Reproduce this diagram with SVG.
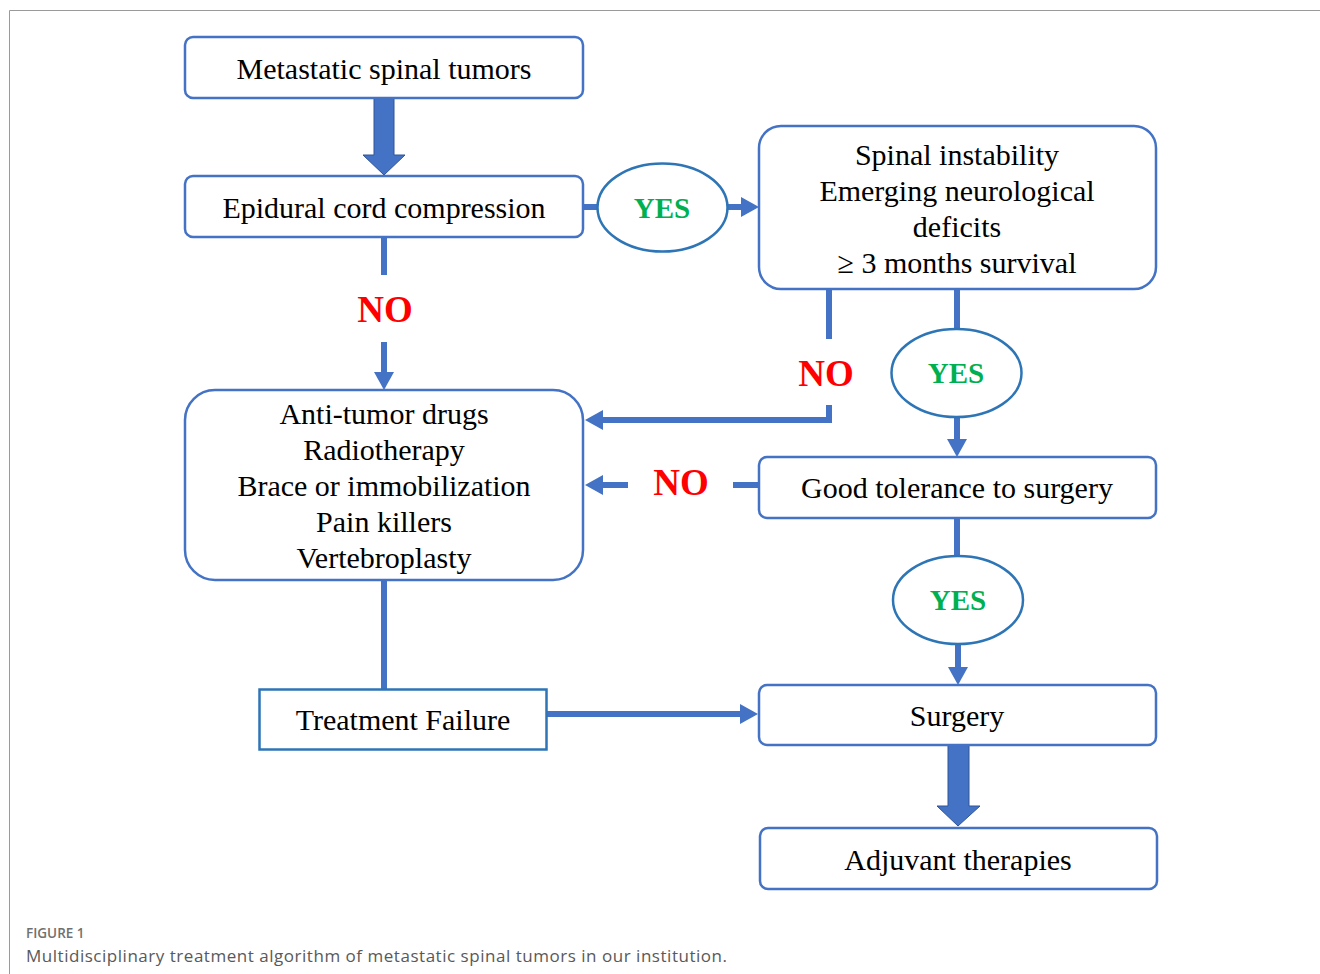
<svg xmlns="http://www.w3.org/2000/svg" width="1320" height="974" viewBox="0 0 1320 974">
<style>
.box{fill:#fff;stroke:#4472C4;stroke-width:2.5}
.ell{fill:#fff;stroke:#2E75B6;stroke-width:2.5}
.t{font-family:"Liberation Serif","Times New Roman",serif;font-size:30px;fill:#000;text-anchor:middle;dominant-baseline:central}
.yes{font-family:"Liberation Serif","Times New Roman",serif;font-size:29px;font-weight:bold;fill:#00B050;text-anchor:middle;dominant-baseline:central}
.no{font-family:"Liberation Serif","Times New Roman",serif;font-size:37px;font-weight:bold;fill:#FF0000;text-anchor:middle;dominant-baseline:central}
.ln{fill:none;stroke:#4472C4;stroke-width:6}
.big{fill:#4472C4;stroke:#2F5597;stroke-width:1}
</style>
<defs>
<marker id="ah" markerUnits="userSpaceOnUse" markerWidth="20" markerHeight="22" refX="0" refY="10" orient="auto" overflow="visible">
<path d="M0,0 L18,10 L0,20 z" fill="#4472C4"/>
</marker>
</defs>
<g id="frame">
<path d="M9.5,974 L9.5,10.5 L1320,10.5" fill="none" stroke="#9a9a9a" stroke-width="1"/>
</g>
<g id="connectors">
<polygon class="big" points="374,97 394,97 394,155 405,155 384,175 363,155 374,155"/>
<polygon class="big" points="948,745 969,745 969,806 980,806 958,826 937,806 948,806"/>
<path class="ln" d="M583,207 L598,207" stroke-width="7"/>
<path class="ln" d="M728,207 L741,207" stroke-width="7" marker-end="url(#ah)"/>
<path class="ln" d="M384,237 L384,275"/>
<path class="ln" d="M384,342 L384,372" marker-end="url(#ah)"/>
<path class="ln" d="M829,289 L829,339"/>
<path class="ln" d="M829,405 L829,420 L603,420" stroke-width="7" marker-end="url(#ah)"/>
<path class="ln" d="M957,289 L957,330" stroke-width="7"/>
<path class="ln" d="M957,417 L957,439" stroke-width="7" marker-end="url(#ah)"/>
<path class="ln" d="M759,485 L733,485" stroke-width="7"/>
<path class="ln" d="M628,485 L603,485" stroke-width="7" marker-end="url(#ah)"/>
<path class="ln" d="M957,518 L957,556" stroke-width="7"/>
<path class="ln" d="M958,644 L958,667" stroke-width="7" marker-end="url(#ah)"/>
<path class="ln" d="M384,580 L384,689"/>
<path class="ln" d="M547,714 L740,714" stroke-width="7" marker-end="url(#ah)"/>
</g>
<g id="n1"><rect class="box" x="185" y="37" width="398" height="61" rx="8"/><text class="t" x="384" y="68">Metastatic spinal tumors</text></g>
<g id="n2"><rect class="box" x="185" y="176" width="398" height="61" rx="8"/><text class="t" x="384" y="207">Epidural cord compression</text></g>
<g id="e1"><ellipse class="ell" cx="662.5" cy="207.5" rx="65" ry="44"/><text class="yes" x="662" y="208">YES</text></g>
<g id="n3"><rect class="box" x="759" y="126" width="397" height="163" rx="22"/>
<text class="t" x="957" y="154">Spinal instability</text>
<text class="t" x="957" y="190">Emerging neurological</text>
<text class="t" x="957" y="226">deficits</text>
<text class="t" x="957" y="262">≥ 3 months survival</text></g>
<g id="no1"><text class="no" x="385" y="309">NO</text></g>
<g id="no2"><text class="no" x="826" y="373">NO</text></g>
<g id="e2"><ellipse class="ell" cx="956.5" cy="373" rx="65" ry="44"/><text class="yes" x="956" y="373">YES</text></g>
<g id="n4"><rect class="box" x="185" y="390" width="398" height="190" rx="30"/>
<text class="t" x="384" y="413">Anti-tumor drugs</text>
<text class="t" x="384" y="449">Radiotherapy</text>
<text class="t" x="384" y="485">Brace or immobilization</text>
<text class="t" x="384" y="521">Pain killers</text>
<text class="t" x="384" y="557">Vertebroplasty</text></g>
<g id="no3"><text class="no" x="681" y="482">NO</text></g>
<g id="n5"><rect class="box" x="759" y="457" width="397" height="61" rx="8"/><text class="t" x="957" y="487">Good tolerance to surgery</text></g>
<g id="e3"><ellipse class="ell" cx="958" cy="600" rx="65" ry="44"/><text class="yes" x="958" y="600">YES</text></g>
<g id="n6"><rect x="259.5" y="689.5" width="287" height="60" fill="#fff" stroke="#2E75B6" stroke-width="2.5"/><text class="t" x="403" y="719">Treatment Failure</text></g>
<g id="n7"><rect class="box" x="759" y="685" width="397" height="60" rx="8"/><text class="t" x="957" y="715">Surgery</text></g>
<g id="n8"><rect class="box" x="760" y="828" width="397" height="61" rx="8"/><text class="t" x="958" y="859">Adjuvant therapies</text></g>
<g id="caption">
<text x="26" y="938" font-family="'Open Sans',sans-serif" font-size="13.5" font-weight="600" fill="#707070">FIGURE 1</text>
<text x="26" y="962" font-family="'Open Sans',sans-serif" font-size="17" fill="#595959" textLength="701" lengthAdjust="spacing">Multidisciplinary treatment algorithm of metastatic spinal tumors in our institution.</text>
</g>
</svg>
